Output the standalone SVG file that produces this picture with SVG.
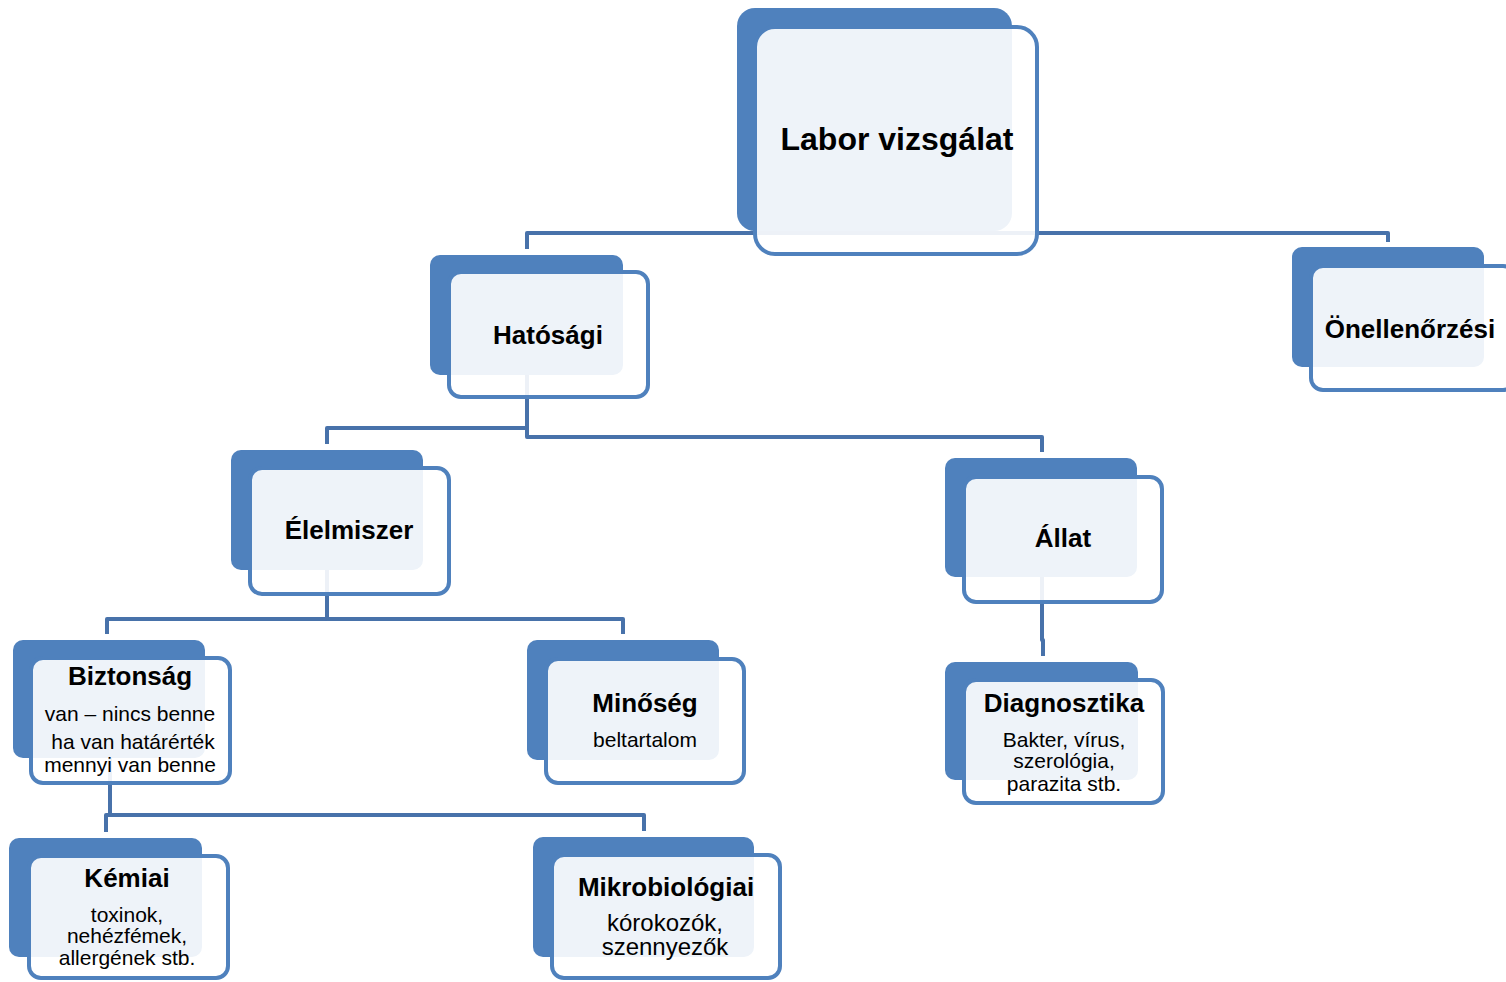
<svg xmlns="http://www.w3.org/2000/svg" width="1506" height="982" viewBox="0 0 1506 982">
<style>
.bk{fill:#4F81BD}
.fr{fill:#FFFFFF;fill-opacity:0.9;stroke:#4F81BD;stroke-width:4}
.cn{fill:none;stroke:#4872AA;stroke-width:4;stroke-linejoin:round}
.t{font-family:"Liberation Sans",Arial,sans-serif;font-weight:bold;fill:#000;text-anchor:middle}
.s{font-family:"Liberation Sans",Arial,sans-serif;font-size:21px;fill:#000;text-anchor:middle}
.s.l{font-size:24px}
</style>
<rect width="1506" height="982" fill="#FFFFFF"/>
<g id="connectors">
<path class="cn" d="M527 249 V233 H1388 V242"/>
<path class="cn" d="M527 375 V428 H327 V444"/>
<path class="cn" d="M527 375 V437 H1042 V452"/>
<path class="cn" d="M327 570 V619 H107 V634"/>
<path class="cn" d="M327 570 V619 H623 V634"/>
<path class="cn" d="M1042 577 V640 H1043 V656"/>
<path class="cn" d="M110 758 V815 H106 V832"/>
<path class="cn" d="M110 758 V815 H644 V831"/>
</g>
<g id="labor">
<rect class="bk" x="737" y="8" width="275" height="223" rx="18"/>
<rect class="fr" x="755" y="27" width="282" height="227" rx="20"/>
<text class="t" x="897" y="150" font-size="32">Labor vizsgálat</text>
</g>
<g id="hatosagi">
<rect class="bk" x="430" y="255" width="193" height="120" rx="10"/>
<rect class="fr" x="449" y="272" width="199" height="125" rx="12"/>
<text class="t" x="548" y="344" font-size="26">Hatósági</text>
</g>
<g id="onellenorzesi">
<rect class="bk" x="1292" y="247" width="192" height="120" rx="10"/>
<rect class="fr" x="1311" y="266" width="204" height="124" rx="12"/>
<text class="t" x="1410" y="338" font-size="26">Önellenőrzési</text>
</g>
<g id="elelmiszer">
<rect class="bk" x="231" y="450" width="192" height="120" rx="10"/>
<rect class="fr" x="250" y="468" width="199" height="126" rx="12"/>
<text class="t" x="349" y="539" font-size="26">Élelmiszer</text>
</g>
<g id="allat">
<rect class="bk" x="945" y="458" width="192" height="119" rx="10"/>
<rect class="fr" x="964" y="477" width="198" height="125" rx="12"/>
<text class="t" x="1063" y="547" font-size="26">Állat</text>
</g>
<g id="diagnosztika">
<rect class="bk" x="945" y="662" width="193" height="118" rx="10"/>
<rect class="fr" x="964" y="680" width="199" height="123" rx="12"/>
<text class="t" x="1064" y="712" font-size="26">Diagnosztika</text>
<text class="s" x="1064" y="747">Bakter, vírus,</text>
<text class="s" x="1064" y="768">szerológia,</text>
<text class="s" x="1064" y="791">parazita stb.</text>
</g>
<g id="biztonsag">
<rect class="bk" x="13" y="640" width="192" height="118" rx="10"/>
<rect class="fr" x="31" y="658" width="199" height="125" rx="12"/>
<text class="t" x="130" y="685" font-size="26">Biztonság</text>
<text class="s" x="130" y="721">van – nincs benne</text>
<text class="s" x="133" y="749">ha van határérték</text>
<text class="s" x="130" y="772">mennyi van benne</text>
</g>
<g id="minoseg">
<rect class="bk" x="527" y="640" width="192" height="120" rx="10"/>
<rect class="fr" x="546" y="659" width="198" height="124" rx="12"/>
<text class="t" x="645" y="712" font-size="26">Minőség</text>
<text class="s" x="645" y="747">beltartalom</text>
</g>
<g id="kemiai">
<rect class="bk" x="9" y="838" width="193" height="119" rx="10"/>
<rect class="fr" x="29" y="856" width="199" height="122" rx="12"/>
<text class="t" x="127" y="887" font-size="26">Kémiai</text>
<text class="s" x="127" y="922">toxinok,</text>
<text class="s" x="127" y="943">nehézfémek,</text>
<text class="s" x="127" y="965">allergének stb.</text>
</g>
<g id="mikrobiologiai">
<rect class="bk" x="533" y="837" width="221" height="120" rx="10"/>
<rect class="fr" x="552" y="855" width="228" height="123" rx="12"/>
<text class="t" x="666" y="896" font-size="26">Mikrobiológiai</text>
<text class="s l" x="665" y="931">kórokozók,</text>
<text class="s l" x="665" y="955">szennyezők</text>
</g>
</svg>
